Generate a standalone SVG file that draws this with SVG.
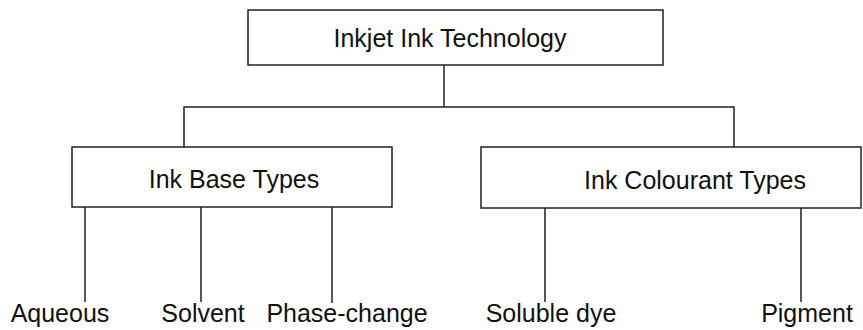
<svg xmlns="http://www.w3.org/2000/svg" width="863" height="330" viewBox="0 0 863 330">
<style>
.box{fill:#fff;stroke:#222;stroke-width:1.5}
.lbl{font-family:"Liberation Sans",Arial,sans-serif;font-size:25px;fill:#111}
.con{fill:none;stroke:#222;stroke-width:1.5}
</style>
<rect width="863" height="330" fill="#fff"/>
<g id="connectors">
<path class="con" d="M444,65 V107 M184,147 V107 H734 V147"/>
<path class="con" d="M85,207 V302 M201,207 V302 M332,207 V303 M545,208 V302 M801,208 V302"/>
</g>
<g id="node-inkjet">
<rect class="box" x="248" y="10" width="415" height="55"/>
<text class="lbl" x="450" y="47" text-anchor="middle">Inkjet Ink Technology</text>
</g>
<g id="node-base">
<rect class="box" x="72" y="147" width="320" height="60"/>
<text class="lbl" x="234" y="188" text-anchor="middle">Ink Base Types</text>
</g>
<g id="node-colourant">
<rect class="box" x="481" y="147" width="380" height="61"/>
<text class="lbl" x="695" y="189" text-anchor="middle">Ink Colourant Types</text>
</g>
<g id="leaf-aqueous"><text class="lbl" x="60" y="322" text-anchor="middle">Aqueous</text></g>
<g id="leaf-solvent"><text class="lbl" x="203" y="322" text-anchor="middle">Solvent</text></g>
<g id="leaf-phase"><text class="lbl" x="347" y="322" text-anchor="middle">Phase-change</text></g>
<g id="leaf-soluble"><text class="lbl" x="551" y="322" text-anchor="middle">Soluble dye</text></g>
<g id="leaf-pigment"><text class="lbl" x="807" y="322" text-anchor="middle">Pigment</text></g>
</svg>
